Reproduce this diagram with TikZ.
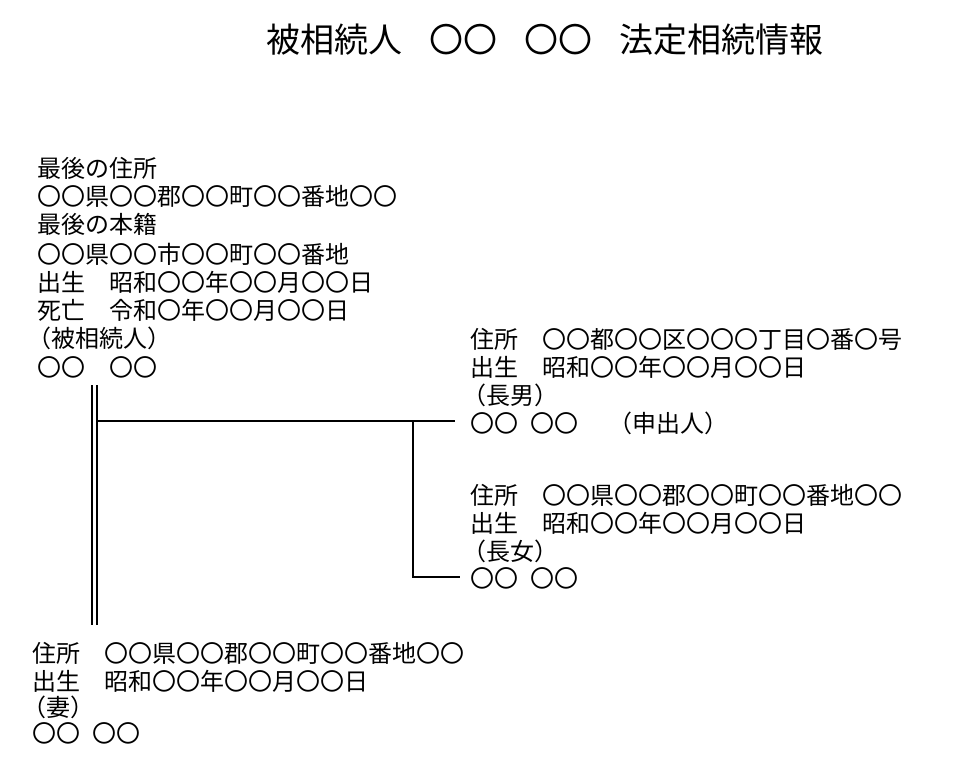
\documentclass[tikz,border=0pt]{standalone}
\usepackage{fontspec}
\setmainfont{Noto Sans CJK JP}
\begin{document}
\begin{tikzpicture}[x=1pt,y=-1pt,
  t/.style={anchor=west,inner sep=0pt,font=\fontsize{24}{24}\selectfont},
  ln/.style={line width=1.2pt}]
\useasboundingbox[fill=white] (0,0) rectangle (953,771);
\node[inner sep=0pt,font=\fontsize{34}{34}\selectfont] (title) at (545,40) {被相続人\hspace{27pt}〇〇\hspace{27pt}〇〇\hspace{27pt}法定相続情報};
% deceased
\node[t] (a1) at (37,168) {最後の住所};
\node[t] (a2) at (37,196) {〇〇県〇〇郡〇〇町〇〇番地〇〇};
\node[t] (a3) at (37,224) {最後の本籍};
\node[t] (a4) at (37,254) {〇〇県〇〇市〇〇町〇〇番地};
\node[t] (a5) at (37,282) {出生　昭和〇〇年〇〇月〇〇日};
\node[t] (a6) at (37,310) {死亡　令和〇年〇〇月〇〇日};
\node[t] (a7) at (27,338) {（被相続人）};
\node[t] (a8) at (37,367) {〇〇　〇〇};
% son
\node[t] (b1) at (470,339) {住所　〇〇都〇〇区〇〇〇丁目〇番〇号};
\node[t] (b2) at (470,367) {出生　昭和〇〇年〇〇月〇〇日};
\node[t] (b3) at (462,395) {（長男）};
\node[t] (b4) at (470,423) {〇〇\hspace{12pt}〇〇\hspace{30pt}（申出人）};
% daughter
\node[t] (c1) at (470,495) {住所　〇〇県〇〇郡〇〇町〇〇番地〇〇};
\node[t] (c2) at (470,523) {出生　昭和〇〇年〇〇月〇〇日};
\node[t] (c3) at (462,551) {（長女）};
\node[t] (c4) at (470,578) {〇〇\hspace{12pt}〇〇};
% wife
\node[t] (d1) at (32,653) {住所　〇〇県〇〇郡〇〇町〇〇番地〇〇};
\node[t] (d2) at (32,681) {出生　昭和〇〇年〇〇月〇〇日};
\node[t] (d3) at (22,707) {（妻）};
\node[t] (d4) at (32,733) {〇〇\hspace{12pt}〇〇};
% lines
\coordinate (m1) at (92,385); \coordinate (m2) at (92,625);
\coordinate (n1) at (97,385); \coordinate (n2) at (97,625);
\draw[ln] (m1) -- (m2);
\draw[ln] (n1) -- (n2);
\coordinate (h1) at (97,421); \coordinate (h2) at (455,421);
\coordinate (v1) at (413,421); \coordinate (v2) at (413,577);
\coordinate (h3) at (460,577);
\draw[ln] (h1) -- (h2);
\draw[ln] (v1) -- (v2) -- (h3);
\end{tikzpicture}
\end{document}
